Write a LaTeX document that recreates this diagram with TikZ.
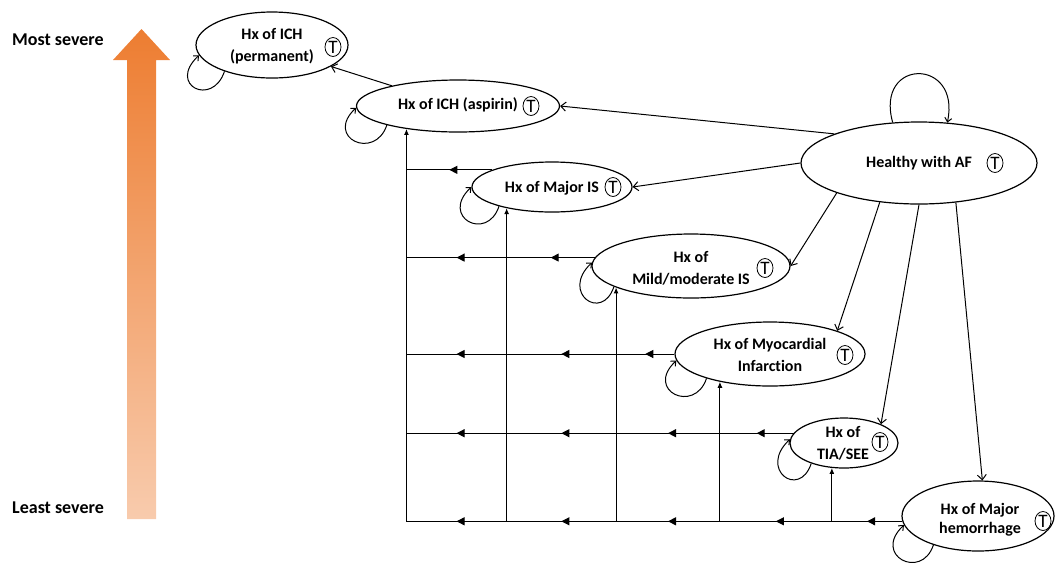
\documentclass[tikz,border=0pt]{standalone}
\usepackage{fontspec}
\setmainfont{Carlito}[Ligatures={NoCommon}]
\usetikzlibrary{shapes.geometric,arrows.meta,decorations.markings}
\definecolor{orangetop}{RGB}{237,125,49}
\definecolor{orangebot}{RGB}{248,203,173}
\begin{document}
\begin{tikzpicture}[x=1pt,y=-1pt,
  st/.style={ellipse,draw,line width=1.2pt,inner sep=0pt},
  lab/.style={font=\bfseries\fontsize{16}{22}\selectfont,align=center,inner sep=0pt},
  side/.style={font=\bfseries\fontsize{18}{22}\selectfont,inner sep=0pt},
  tsym/.style={ellipse,draw,line width=0.8pt,inner sep=0pt,minimum width=16pt,minimum height=19pt,font=\fontsize{19}{19}\selectfont},
  con/.style={line width=1pt},
  oarr/.style={con,-{Straight Barb[length=5pt,width=9pt]}},
  uparr/.style={con,-{Latex[length=6pt,width=5pt]}},
  midarr/.style={con,postaction={decorate},decoration={markings,mark=at position 0.5 with {\arrow{Triangle[length=8pt,width=8pt]}}}},
  selfl/.style={con,-{Straight Barb[length=4pt,width=7pt]}},
]
\useasboundingbox (0,0) rectangle (1057,566);

% severity arrow
\shade[top color=orangetop, middle color=orangetop!60!orangebot, bottom color=orangebot]
  (127,519) -- (127,60) -- (113,60) -- (141.5,29) -- (170,60) -- (156,60) -- (156,519) -- cycle;
\node[side,anchor=west] (most) at (12,40) {Most severe};
\node[side,anchor=west] (least) at (12,508) {Least severe};

% states
\node[st,minimum width=152pt,minimum height=66pt] (perm) at (272,45) {};
\node[lab] (permt) at (272,46) {Hx of ICH\\(permanent)};
\node[tsym] (permT) at (333,47) {T};

\node[st,minimum width=203pt,minimum height=52pt] (asp) at (458,106) {};
\node[lab] (aspt) at (458,105) {Hx of ICH (aspirin)};
\node[tsym] (aspT) at (531,106) {T};

\node[st,minimum width=160pt,minimum height=50pt] (majis) at (552,187) {};
\node[lab] (majist) at (552,188) {Hx of Major IS};
\node[tsym] (majisT) at (613,187) {T};

\node[st,minimum width=236pt,minimum height=82pt] (healthy) at (919,163) {};
\node[lab] (healthyt) at (919,163) {Healthy with AF};
\node[tsym] (healthyT) at (995,163) {T};

\node[st,minimum width=198pt,minimum height=64pt] (mild) at (691,266) {};
\node[lab] (mildt) at (691,268) {Hx of\\Mild/moderate IS};
\node[tsym] (mildT) at (765,268) {T};

\node[st,minimum width=190pt,minimum height=64pt] (mi) at (770,354) {};
\node[lab] (mit) at (770,355) {Hx of Myocardial\\Infarction};
\node[tsym] (miT) at (845,355) {T};

\node[st,minimum width=108pt,minimum height=50pt] (tia) at (844,443) {};
\node[lab] (tiat) at (843,443) {Hx of\\TIA/SEE};
\node[tsym] (tiaT) at (880,442) {T};

\node[st,minimum width=152pt,minimum height=70pt] (hem) at (978,516) {};
\node[lab,font=\bfseries\fontsize{16}{19}\selectfont] (hemt) at (980,520) {Hx of Major\\hemorrhage};
\node[tsym] (hemT) at (1043,521) {T};

% transitions from healthy
\draw[oarr] (healthy.161) -- (asp.east);
\draw[oarr] (asp.163) -- (perm.-20);
\draw[oarr] (healthy.west) -- (majis.east);
\draw[oarr] (healthy.200) -- (mild.east);
\draw[oarr] (healthy.225) -- (mi.19);
\draw[oarr] (healthy.south) -- (tia.27);
\draw[oarr] (healthy.313) -- (hem.83);

% grid coordinates
\coordinate (v1) at (asp.204);
\coordinate (v2) at (majis.205);
\coordinate (v3) at (mild.196);
\coordinate (v4) at (mi.209);
\coordinate (v5) at (tia.244);
\coordinate (r1) at (majis.164);
\coordinate (r2) at (mild.175);
\coordinate (r3) at (mi.west);
\coordinate (r4) at (tia.169);
\coordinate (r5) at (hem.184);

% horizontal rows
\draw[midarr] (r1) -- (v1 |- r1);
\draw[midarr] (r2) -- (v2 |- r2);
\draw[midarr] (v2 |- r2) -- (v1 |- r2);
\draw[midarr] (r3) -- (v3 |- r3);
\draw[midarr] (v3 |- r3) -- (v2 |- r3);
\draw[midarr] (v2 |- r3) -- (v1 |- r3);
\draw[midarr] (r4) -- (v4 |- r4);
\draw[midarr] (v4 |- r4) -- (v3 |- r4);
\draw[midarr] (v3 |- r4) -- (v2 |- r4);
\draw[midarr] (v2 |- r4) -- (v1 |- r4);
\draw[midarr] (r5) -- (v5 |- r5);
\draw[midarr] (v5 |- r5) -- (v4 |- r5);
\draw[midarr] (v4 |- r5) -- (v3 |- r5);
\draw[midarr] (v3 |- r5) -- (v2 |- r5);
\draw[midarr] (v2 |- r5) -- (v1 |- r5);

% verticals
\draw[uparr] (v1 |- r5) -- (v1);
\draw[uparr] (v2 |- r5) -- (v2);
\draw[uparr] (v3 |- r5) -- (v3);
\draw[uparr] (v4 |- r5) -- (v4);
\draw[uparr] (v5 |- r5) -- (v5);

% self loops
\draw[selfl] (perm.209) .. controls +(-12,36) and +(-32,30) .. (perm.188);
\draw[selfl] (asp.195) .. controls +(-12,36) and +(-32,30) .. (asp.181);
\draw[selfl] (majis.200) .. controls +(-12,36) and +(-32,30) .. (majis.180);
\draw[selfl] (mild.195) .. controls +(-12,36) and +(-32,30) .. (mild.178);
\draw[selfl] (mi.201) .. controls +(-12,36) and +(-32,30) .. (mi.184);
\draw[selfl] (tia.212) .. controls +(-12,36) and +(-32,30) .. (tia.176);
\draw[selfl] (hem.213) .. controls +(-12,36) and +(-32,30) .. (hem.187);
\draw[selfl] (healthy.123) .. controls +(-18,-65) and +(14,-65) .. (healthy.55);
\end{tikzpicture}
\end{document}
